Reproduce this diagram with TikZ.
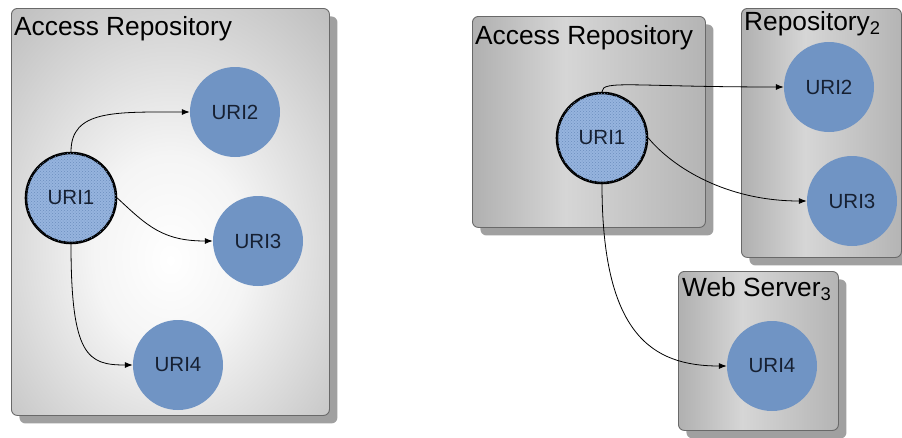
\documentclass[tikz,border=0pt]{standalone}
\usepackage{fontspec}
\setmainfont{Liberation Sans}
\usetikzlibrary{arrows.meta,patterns,shadows}

\definecolor{uriblue}{RGB}{112,148,196}
\definecolor{urilight}{RGB}{150,180,222}
\definecolor{uridot}{RGB}{108,142,190}
\definecolor{uritext}{RGB}{22,32,50}
\definecolor{frame}{RGB}{105,105,105}
\definecolor{shade}{RGB}{160,160,160}
\definecolor{glowedge}{RGB}{168,168,168}
\definecolor{glowcorner}{RGB}{150,150,150}
\definecolor{panelA}{RGB}{160,160,160}
\definecolor{panelB}{RGB}{214,214,214}
\definecolor{panelC}{RGB}{158,158,158}

% bright spot in the middle of the large container
\pgfdeclareradialshading{boxglow}{\pgfpoint{0bp}{-6bp}}{%
  color(0bp)=(white); color(12bp)=(white!96!black);
  color(48bp)=(glowedge); color(75bp)=(glowcorner)}
% dark - light - dark band across the small containers
\pgfdeclarehorizontalshading{panelband}{100bp}{%
  color(0bp)=(panelA); color(25bp)=(panelA!70!panelB);
  color(45bp)=(panelB); color(75bp)=(panelC!60!panelB); color(100bp)=(panelC)}

\tikzset{
  container/.style={draw=frame, line width=0.9pt, rounded corners=6pt,
    anchor=north west, inner sep=0pt,
    drop shadow={shadow xshift=8pt, shadow yshift=-8pt, fill=shade, opacity=1}},
  glowbox/.style={container, shading=boxglow},
  panelbox/.style={container, shading=panelband},
  title/.style={anchor=base west, inner sep=0pt, font=\fontsize{26.3}{26}\selectfont, text=black},
  uri/.style={circle, fill=uriblue, minimum size=90pt, inner sep=0pt,
    text=uritext, font=\fontsize{20.5}{20}\selectfont},
  uristart/.style={uri, fill=urilight, draw=black, line width=2.6pt,
    postaction={pattern=crosshatch dots, pattern color=uridot}},
  link/.style={line width=0.8pt, -{Latex[length=8pt,width=6pt]}}
}

\begin{document}
\begin{tikzpicture}[x=1pt,y=-1pt]
\useasboundingbox (0,0) rectangle (902,437);

% ---- single repository ----
\node[glowbox, minimum width=318pt, minimum height=407pt] (repoL) at (11,8) {};
\node[title] (titleL) at (14,35) {Access Repository};

\node[uristart] (l1) at (71,198) {URI1};
\node[uri] (l2) at (235,112) {URI2};
\node[uri] (l3) at (258,241) {URI3};
\node[uri] (l4) at (178,365) {URI4};

\draw[link] (l1.north) .. controls +(0,-42) and +(-75,0) .. (l2.west);
\draw[link] (l1.east) .. controls +(30,28) and +(-50,0) .. (l3.west);
\draw[link] (l1.south) .. controls +(0,112) and +(-45,0) .. (l4.west);

% ---- distributed repositories ----
\node[panelbox, minimum width=233pt, minimum height=211pt] (repoA) at (472,16) {};
\node[title] (titleA) at (475,44) {Access Repository};

\node[panelbox, minimum width=160pt, minimum height=249pt] (repoB) at (741,8) {};
\node[title] (titleB) at (744,30) {Repository\textsubscript{2}};

\node[panelbox, minimum width=160pt, minimum height=159pt] (repoC) at (678,271) {};
\node[title] (titleC) at (682,296) {Web Server\textsubscript{3}};

\node[uristart] (r1) at (602,138) {URI1};
\node[uri] (r2) at (829,87) {URI2};
\node[uri] (r3) at (852,201) {URI3};
\node[uri] (r4) at (772,366) {URI4};

\draw[link] (r1.north) .. controls +(0,-12) and +(-150,0) .. (r2.west);
\draw[link] (r1.east) .. controls +(25,30) and +(-80,0) .. (r3.west);
\draw[link] (r1.south) .. controls +(0,150) and +(-75,0) .. (r4.west);
\end{tikzpicture}
\end{document}
